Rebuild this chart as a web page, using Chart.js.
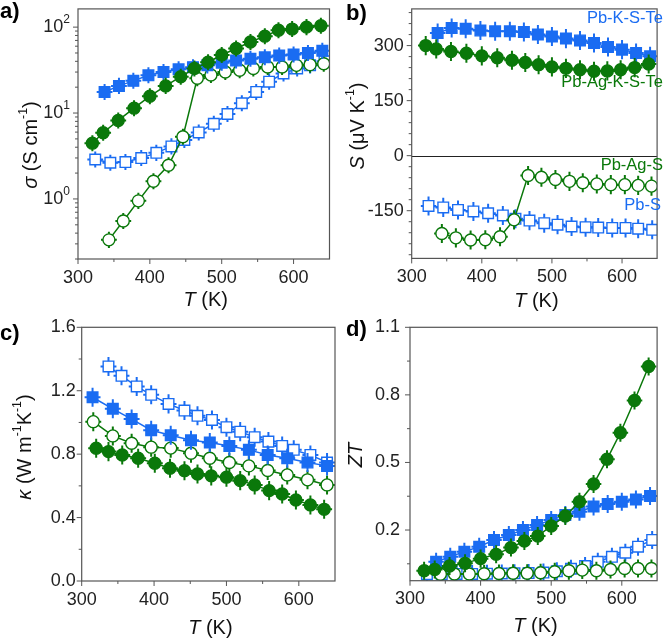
<!DOCTYPE html>
<html>
<head>
<meta charset="utf-8">
<script src="https://cdn.jsdelivr.net/npm/chart.js@4"></script>
<style>
  body { margin: 0; background: #fff; }
  #wrap { position: relative; width: 666px; height: 641px; overflow: hidden; }
  #wrap canvas { position: absolute; left: 0; top: 0; }
</style>
</head>
<body>
<div id="wrap">
  <canvas id="chartA" width="666" height="641"></canvas>
  <canvas id="chartB" width="666" height="641"></canvas>
  <canvas id="chartC" width="666" height="641"></canvas>
  <canvas id="chartD" width="666" height="641"></canvas>
</div>
<script>
// ---------------------------------------------------------------
// Data
// ---------------------------------------------------------------

// temperatures (K) for sigma, S and ZT
const tPbS      = [324, 345, 366, 388, 409, 430, 448, 468, 489, 508, 528, 548, 566, 586, 605, 623, 643];
const tPbAgS    = [343, 363, 384, 405, 426, 446, 466, 485, 505, 525, 544, 564, 584, 604, 623, 642];
const tPbKSTe   = [337, 357, 377, 398, 419, 440, 460, 480, 500, 520, 540, 560, 580, 600, 620, 640];
const tPbAgKSTe = [320, 335, 356, 378, 400, 422, 443, 462, 481, 500, 520, 540, 560, 579, 598, 618, 638];

// temperatures (K) of the thermal conductivity runs
const tkPbS      = [337, 355, 376, 396, 420, 442, 460, 480, 500, 519, 539, 558, 577, 593, 616, 639];
const tkPbAgS    = [316, 343, 369, 396, 423, 451, 477, 504, 531, 557, 584, 612, 639];
const tkPbKSTe   = [315, 343, 369, 396, 423, 451, 477, 504, 531, 557, 584, 612, 639];
const tkPbAgKSTe = [320, 337, 356, 378, 401, 422, 442, 460, 479, 500, 519, 539, 559, 577, 596, 616, 635];

// a) electrical conductivity (S cm-1)
const sigmaPbS      = [2.88, 2.64, 2.69, 2.99, 3.44, 4.09, 4.86, 5.95, 7.5, 9.75, 13, 17.6, 23.2, 28.9, 33, 35.9, 40];
const sigmaPbAgS    = [0.334, 0.553, 0.95, 1.61, 2.47, 5.3, 25.4, 27.7, 30.1, 31.5, 33, 34.4, 34.4, 35.9, 36.6, 37.5];
const sigmaPbKSTe   = [17.6, 20.7, 23.7, 27.5, 30.1, 32.4, 34.2, 35.9, 38.5, 40.9, 42.8, 44.6, 46.6, 47.9, 50, 53];
const sigmaPbAgKSTe = [4.46, 5.9, 8.2, 11.4, 15.7, 20.7, 26.5, 33, 39, 47.4, 56.4, 67.1, 78.5, 91.8, 94.9, 100, 103.7];

// b) Seebeck coefficient (uV K-1)
const seebeckPbS      = [-137, -141, -148, -152, -157, -163, -172, -177, -184, -188, -193, -195, -196, -197, -197, -199, -202];
const seebeckPbAgS    = [-212, -224, -230, -229, -221, -175, -54, -59, -65, -70, -74, -77, -79, -79, -81, -83];
const seebeckPbKSTe   = [334, 348, 346, 341, 339, 339, 337, 330, 325, 319, 314, 307, 296, 289, 280, 271];
const seebeckPbAgKSTe = [300, 291, 284, 279, 272, 267, 260, 254, 248, 242, 238, 234, 230, 231, 234, 240, 250];

// c) thermal conductivity (W m-1 K-1)
const kappaPbS      = [1.353, 1.294, 1.227, 1.174, 1.117, 1.075, 1.042, 1.016, 0.970, 0.942, 0.907, 0.879, 0.852, 0.827, 0.795, 0.747];
const kappaPbAgS    = [1.005, 0.915, 0.869, 0.844, 0.838, 0.806, 0.774, 0.747, 0.726, 0.697, 0.669, 0.638, 0.606];
const kappaPbKSTe   = [1.159, 1.086, 1.021, 0.951, 0.919, 0.888, 0.873, 0.852, 0.827, 0.795, 0.774, 0.747, 0.726];
const kappaPbAgKSTe = [0.837, 0.816, 0.795, 0.774, 0.743, 0.711, 0.696, 0.675, 0.663, 0.655, 0.633, 0.606, 0.570, 0.549, 0.511, 0.480, 0.452];

// d) figure of merit
const ztPbS      = [0.004, 0.004, 0.005, 0.005, 0.006, 0.007, 0.008, 0.009, 0.011, 0.017, 0.028, 0.040, 0.059, 0.081, 0.099, 0.126, 0.156];
const ztPbAgS    = [0.004, 0.005, 0.005, 0.006, 0.007, 0.008, 0.008, 0.010, 0.015, 0.019, 0.022, 0.019, 0.025, 0.029, 0.029, 0.029];
const ztPbKSTe   = [0.059, 0.081, 0.104, 0.126, 0.156, 0.178, 0.200, 0.222, 0.244, 0.267, 0.281, 0.304, 0.316, 0.326, 0.336, 0.351];
const ztPbAgKSTe = [0.019, 0.025, 0.040, 0.052, 0.073, 0.092, 0.122, 0.151, 0.173, 0.218, 0.262, 0.326, 0.404, 0.514, 0.632, 0.775, 0.926];

// error bars
const T_ERR = 11;          // K
const SIGMA_ERR = 1.24;    // factor
const SEEBECK_ERR = 26;    // uV K-1
const KAPPA_ERR = 0.06;
const ZT_ERR = 0.04;

// tick values
const tTicks = [300, 400, 500, 600];
const tMinor = [350, 450, 550];
const sigmaTicks = [1, 10, 100];
const seebeckTicks = [-150, 0, 150, 300];
const seebeckMinor = [-270, -240, -210, -180, -120, -90, -60, -30, 30, 60, 90, 120, 180, 210, 240, 270, 330, 360, 390];
const kappaTicks = [0, 0.4, 0.8, 1.2, 1.6];
const kappaMinor = [0.2, 0.6, 1.0, 1.4];
const ztTicks = [0.2, 0.5, 0.8, 1.1];
const ztMinor = [0.05, 0.35, 0.65, 0.95];

// ---------------------------------------------------------------
// Styling helpers
// ---------------------------------------------------------------
const BLUE = '#1a6cf2';
const GREEN = '#0a780a';
const FONT = '"Liberation Sans", Arial, sans-serif';
const AXIS = '#555';
const W = 666, H = 641, YW = 60, XH = 40;

function series(xs, ys, kind) {
  const blue = (kind === 'PbS' || kind === 'PbKSTe');
  const open = (kind === 'PbS' || kind === 'PbAgS');
  const color = blue ? BLUE : GREEN;
  return {
    label: kind,
    data: xs.map((x, i) => ({ x: x, y: ys[i] })),
    showLine: true,
    borderColor: color,
    borderWidth: 1.5,
    pointStyle: blue ? 'rect' : 'circle',
    pointRadius: blue ? 7.5 : 6,
    pointBackgroundColor: open ? '#fff' : color,
    pointBorderColor: color,
    pointBorderWidth: 1.4
  };
}

// text made of pieces: {t, i (italic), sup}
function drawRich(ctx, segs, x, y, size, rotate) {
  const fontOf = s => (s.i ? 'italic ' : '') + (s.sup ? size * 0.62 : size) + 'px ' + FONT;
  ctx.save();
  ctx.translate(x, y);
  if (rotate) ctx.rotate(-Math.PI / 2);
  ctx.textBaseline = 'middle';
  ctx.textAlign = 'left';
  ctx.fillStyle = '#111';
  let total = 0;
  segs.forEach(s => { ctx.font = fontOf(s); total += ctx.measureText(s.t).width; });
  let cx = -total / 2;
  segs.forEach(s => {
    ctx.font = fontOf(s);
    ctx.fillText(s.t, cx, s.sup ? -size * 0.38 : 0);
    cx += ctx.measureText(s.t).width;
  });
  ctx.restore();
}

const T_TITLE = [{ t: 'T', i: true }, { t: ' (K)' }];

function makePanel(id, p) {
  const a = p.area;

  const panelPlugin = {
    id: 'panel' + id,
    beforeDatasetDraw(chart, args) {
      const ds = chart.data.datasets[args.index];
      const xs = chart.scales.x, ys = chart.scales.y, ca = chart.chartArea;
      const ctx = chart.ctx;
      ctx.save();
      ctx.beginPath();
      ctx.rect(ca.left, ca.top, ca.right - ca.left, ca.bottom - ca.top);
      ctx.clip();
      ctx.strokeStyle = ds.borderColor;
      ctx.lineWidth = 2;
      ds.data.forEach(pt => {
        const px = xs.getPixelForValue(pt.x), py = ys.getPixelForValue(pt.y);
        const lim = p.yErr(pt.y);
        ctx.beginPath();
        ctx.moveTo(xs.getPixelForValue(pt.x - T_ERR), py);
        ctx.lineTo(xs.getPixelForValue(pt.x + T_ERR), py);
        ctx.moveTo(px, ys.getPixelForValue(lim[0]));
        ctx.lineTo(px, ys.getPixelForValue(lim[1]));
        ctx.stroke();
      });
      ctx.restore();
    },
    afterDraw(chart) {
      const ctx = chart.ctx, ca = chart.chartArea;
      const xs = chart.scales.x, ys = chart.scales.y;
      ctx.save();
      // zero line
      if (p.zeroLine) {
        const zy = Math.round(ys.getPixelForValue(0)) + 0.5;
        ctx.strokeStyle = '#222';
        ctx.lineWidth = 1;
        ctx.beginPath();
        ctx.moveTo(ca.left, zy);
        ctx.lineTo(ca.right, zy);
        ctx.stroke();
      }
      // frame
      ctx.strokeStyle = AXIS;
      ctx.lineWidth = 1.2;
      ctx.strokeRect(ca.left, ca.top, ca.right - ca.left, ca.bottom - ca.top);
      // ticks (outward)
      ctx.lineWidth = 1;
      ctx.beginPath();
      tTicks.concat(tMinor).forEach(v => {
        const x = xs.getPixelForValue(v);
        const len = tTicks.includes(v) ? 5 : 3;
        ctx.moveTo(x, ca.bottom);
        ctx.lineTo(x, ca.bottom + len);
      });
      p.yMajor.concat(p.yMinor).forEach(v => {
        if (v < ys.min || v > ys.max) return;
        const y = ys.getPixelForValue(v);
        const len = p.yMajor.includes(v) ? 5 : 3;
        ctx.moveTo(ca.left, y);
        ctx.lineTo(ca.left - len, y);
      });
      ctx.stroke();
      // log tick labels 10^n
      if (p.logLabels) {
        ctx.fillStyle = '#222';
        ctx.textBaseline = 'middle';
        sigmaTicks.forEach(v => {
          const y = ys.getPixelForValue(v);
          const e = String(Math.round(Math.log10(v)));
          ctx.font = '12px ' + FONT;
          const ew = ctx.measureText(e).width;
          ctx.textAlign = 'left';
          const right = ca.left - 8;
          ctx.fillText(e, right - ew, y - 7);
          ctx.font = '18px ' + FONT;
          ctx.textAlign = 'right';
          ctx.fillText('10', right - ew, y);
        });
      }
      // panel letter
      ctx.fillStyle = '#000';
      ctx.font = 'bold 22px ' + FONT;
      ctx.textAlign = 'left';
      ctx.textBaseline = 'middle';
      ctx.fillText(p.letter, p.letterPos[0], p.letterPos[1]);
      // in-plot labels
      (p.notes || []).forEach(n => {
        ctx.fillStyle = n.color;
        ctx.font = '16.5px ' + FONT;
        ctx.textAlign = 'right';
        ctx.fillText(n.text, n.x, n.y);
      });
      ctx.restore();
      // axis titles
      drawRich(ctx, T_TITLE, (ca.left + ca.right) / 2 + 2, p.xTitleY, 20, false);
      drawRich(ctx, p.yTitle, p.yTitlePos[0], p.yTitlePos[1], 20, true);
    }
  };

  const yScale = {
    type: p.log ? 'logarithmic' : 'linear',
    min: p.yMin,
    max: p.yMax,
    grid: { display: false, drawTicks: false },
    border: { display: false },
    afterBuildTicks: s => { s.ticks = p.yMajor.map(v => ({ value: v })); },
    ticks: {
      display: !p.log,
      font: { family: FONT, size: 18 },
      color: '#222',
      padding: p.yPad,
      callback: v => p.yFmt(v)
    },
    // fixed width, and no extra room asked for labels sticking out
    afterFit: s => { s.width = YW; s.paddingTop = 0; s.paddingBottom = 0; }
  };

  new Chart(document.getElementById(id), {
    type: 'scatter',
    data: { datasets: p.datasets },
    options: {
      responsive: false,
      animation: false,
      events: [],
      layout: { padding: { left: a.left - YW, right: W - a.right, top: a.top, bottom: H - a.bottom - XH } },
      plugins: { legend: { display: false }, tooltip: { enabled: false } },
      scales: {
        x: {
          type: 'linear',
          min: 300,
          max: 650,
          grid: { display: false, drawTicks: false },
          border: { display: false },
          afterBuildTicks: s => { s.ticks = tTicks.map(v => ({ value: v })); },
          ticks: { font: { family: FONT, size: 18 }, color: '#222', padding: 8, maxRotation: 0, autoSkip: false },
          afterFit: s => { s.height = XH; s.paddingLeft = 0; s.paddingRight = 0; }
        },
        y: yScale
      }
    },
    plugins: [panelPlugin]
  });
}

// ---------------------------------------------------------------
// Panels
// ---------------------------------------------------------------
makePanel('chartA', {
  area: { left: 78, right: 329.5, top: 2, bottom: 259 },
  log: true, yMin: 0.2, yMax: 163,
  yMajor: sigmaTicks,
  yMinor: [0.2, 0.3, 0.4, 0.5, 0.6, 0.7, 0.8, 0.9, 2, 3, 4, 5, 6, 7, 8, 9, 20, 30, 40, 50, 60, 70, 80, 90],
  yFmt: v => '', yPad: 8, logLabels: true,
  yErr: v => [v / SIGMA_ERR, v * SIGMA_ERR],
  letter: 'a)', letterPos: [0, 12],
  xTitleY: 300,
  yTitle: [{ t: 'σ', i: true }, { t: ' (S cm' }, { t: '-1', sup: true }, { t: ')' }],
  yTitlePos: [31, 145],
  datasets: [
    series(tPbAgKSTe, sigmaPbAgKSTe, 'PbAgKSTe'),
    series(tPbKSTe, sigmaPbKSTe, 'PbKSTe'),
    series(tPbAgS, sigmaPbAgS, 'PbAgS'),
    series(tPbS, sigmaPbS, 'PbS')
  ]
});

makePanel('chartB', {
  area: { left: 411.7, right: 665, top: 5, bottom: 258.4 },
  yMin: -280, yMax: 400,
  yMajor: seebeckTicks, yMinor: seebeckMinor,
  yFmt: v => String(v), yPad: 8,
  yErr: v => [v - SEEBECK_ERR, v + SEEBECK_ERR],
  zeroLine: true,
  letter: 'b)', letterPos: [346, 14],
  xTitleY: 301,
  yTitle: [{ t: 'S', i: true }, { t: ' (μV K' }, { t: '-1', sup: true }, { t: ')' }],
  yTitlePos: [358, 126],
  notes: [
    { text: 'Pb-K-S-Te', color: BLUE, x: 663, y: 18 },
    { text: 'Pb-Ag-K-S-Te', color: GREEN, x: 663, y: 82 },
    { text: 'Pb-Ag-S', color: GREEN, x: 663, y: 165 },
    { text: 'Pb-S', color: BLUE, x: 661, y: 205 }
  ],
  datasets: [
    series(tPbAgKSTe, seebeckPbAgKSTe, 'PbAgKSTe'),
    series(tPbKSTe, seebeckPbKSTe, 'PbKSTe'),
    series(tPbAgS, seebeckPbAgS, 'PbAgS'),
    series(tPbS, seebeckPbS, 'PbS')
  ]
});

makePanel('chartC', {
  area: { left: 81.7, right: 335, top: 327.3, bottom: 581 },
  yMin: 0, yMax: 1.6,
  yMajor: kappaTicks, yMinor: kappaMinor,
  yFmt: v => v.toFixed(1), yPad: 6,
  yErr: v => [v - KAPPA_ERR, v + KAPPA_ERR],
  letter: 'c)', letterPos: [0, 334],
  xTitleY: 628,
  yTitle: [{ t: 'κ', i: true }, { t: ' (W m' }, { t: '-1', sup: true }, { t: 'K' }, { t: '-1', sup: true }, { t: ')' }],
  yTitlePos: [25, 447],
  datasets: [
    series(tkPbAgKSTe, kappaPbAgKSTe, 'PbAgKSTe'),
    series(tkPbKSTe, kappaPbKSTe, 'PbKSTe'),
    series(tkPbAgS, kappaPbAgS, 'PbAgS'),
    series(tkPbS, kappaPbS, 'PbS')
  ]
});

makePanel('chartD', {
  area: { left: 410, right: 661.7, top: 327.3, bottom: 580.7 },
  yMin: -0.025, yMax: 1.1,
  yMajor: ztTicks, yMinor: ztMinor,
  yFmt: v => v.toFixed(1), yPad: 10,
  yErr: v => [v - ZT_ERR, v + ZT_ERR],
  letter: 'd)', letterPos: [346, 330],
  xTitleY: 626,
  yTitle: [{ t: 'ZT', i: true }],
  yTitlePos: [356, 455],
  datasets: [
    series(tPbAgKSTe, ztPbAgKSTe, 'PbAgKSTe'),
    series(tPbKSTe, ztPbKSTe, 'PbKSTe'),
    series(tPbAgS, ztPbAgS, 'PbAgS'),
    series(tPbS, ztPbS, 'PbS')
  ]
});
</script>
</body>
</html>
